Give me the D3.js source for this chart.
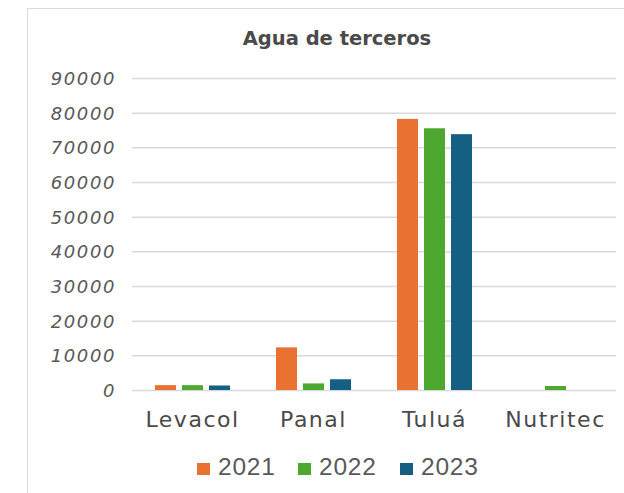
<!DOCTYPE html>
<html>
<head>
<meta charset="utf-8">
<script src="https://cdn.jsdelivr.net/npm/d3@7"></script>
<style>
  body { margin: 0; background: #fff; }
  svg { display: block; }
</style>
</head>
<body>
<div id="chart"></div>
<script>
// values
const categories = ['Levacol', 'Panal', 'Tuluá', 'Nutritec'];
const years = ['2021', '2022', '2023'];
const values2021 = [1400, 12300, 78200, 0];
const values2022 = [1400, 1900, 75500, 1150];
const values2023 = [1300, 3100, 73800, 0];
const yTicks = [0, 10000, 20000, 30000, 40000, 50000, 60000, 70000, 80000, 90000];

const series = [values2021, values2022, values2023];
const colors = ['#E97132', '#4EA72E', '#156082'];

const W = 624, H = 493;
const svg = d3.select('#chart').append('svg')
    .attr('width', W)
    .attr('height', H);

// chart frame (only left and top edges are visible in the crop)
svg.append('line').attr('x1', 27.5).attr('x2', 27.5).attr('y1', 8).attr('y2', H)
    .attr('stroke', '#d9d9d9');
svg.append('line').attr('x1', 27).attr('x2', W).attr('y1', 8.5).attr('y2', 8.5)
    .attr('stroke', '#d9d9d9');

svg.append('text')
    .attr('x', 337).attr('y', 45)
    .attr('text-anchor', 'middle')
    .style('font-family', 'DejaVu Sans')
    .style('font-weight', 'bold')
    .style('font-size', '19.5px')
    .style('fill', '#4a4a4a')
    .text('Agua de terceros');

const x0 = d3.scaleBand()
    .domain(categories)
    .range([132, 616])
    .paddingInner(0.38)
    .paddingOuter(0.19);

const x1 = d3.scaleBand()
    .domain(years)
    .range([0, x0.bandwidth()])
    .paddingInner(0.222);

const y = d3.scaleLinear()
    .domain([0, 90000])
    .range([390, 78]);

// y axis + gridlines
const yAxis = svg.append('g')
    .attr('transform', 'translate(132,0)')
    .call(d3.axisLeft(y).tickValues(yTicks).tickSize(-(616 - 132)).tickPadding(16).tickFormat(d => d));
yAxis.select('.domain').remove();
yAxis.selectAll('line').attr('stroke', '#d9d9d9').attr('stroke-width', 1.5);
yAxis.selectAll('text')
    .attr('dy', '0.36em')
    .style('font-family', 'DejaVu Sans')
    .style('font-style', 'italic')
    .style('font-size', '18px')
    .style('letter-spacing', '1.6px')
    .style('fill', '#595959');

// bars
const groups = svg.append('g').selectAll('g')
    .data(categories)
    .enter()
    .append('g')
    .attr('transform', d => `translate(${x0(d)},0)`);

groups.selectAll('rect')
    .data((d, i) => years.map((yr, j) => ({ year: yr, value: series[j][i], color: colors[j] })))
    .enter()
    .append('rect')
    .attr('x', d => x1(d.year))
    .attr('y', d => y(d.value))
    .attr('width', x1.bandwidth())
    .attr('height', d => y(0) - y(d.value))
    .attr('fill', d => d.color);

// x axis labels
const xAxis = svg.append('g')
    .attr('transform', 'translate(0,390)')
    .call(d3.axisBottom(x0).tickSize(0).tickPadding(0));
xAxis.select('.domain').remove();
xAxis.selectAll('text')
    .attr('y', 37)
    .attr('dy', 0)
    .style('font-family', 'DejaVu Sans')
    .style('font-size', '22px')
    .style('letter-spacing', '1.5px')
    .style('fill', '#4a4a4a');

// legend
const legendX = [197, 298, 400];
const legend = svg.append('g').selectAll('g')
    .data(years)
    .enter()
    .append('g')
    .attr('transform', (d, i) => `translate(${legendX[i]},463)`);
legend.append('rect')
    .attr('width', 13).attr('height', 12)
    .attr('fill', (d, i) => colors[i]);
legend.append('text')
    .attr('x', 21).attr('y', 12)
    .style('font-family', 'Liberation Sans')
    .style('font-size', '24.5px')
    .style('letter-spacing', '0.8px')
    .style('fill', '#595959')
    .text(d => d);
</script>
</body>
</html>
